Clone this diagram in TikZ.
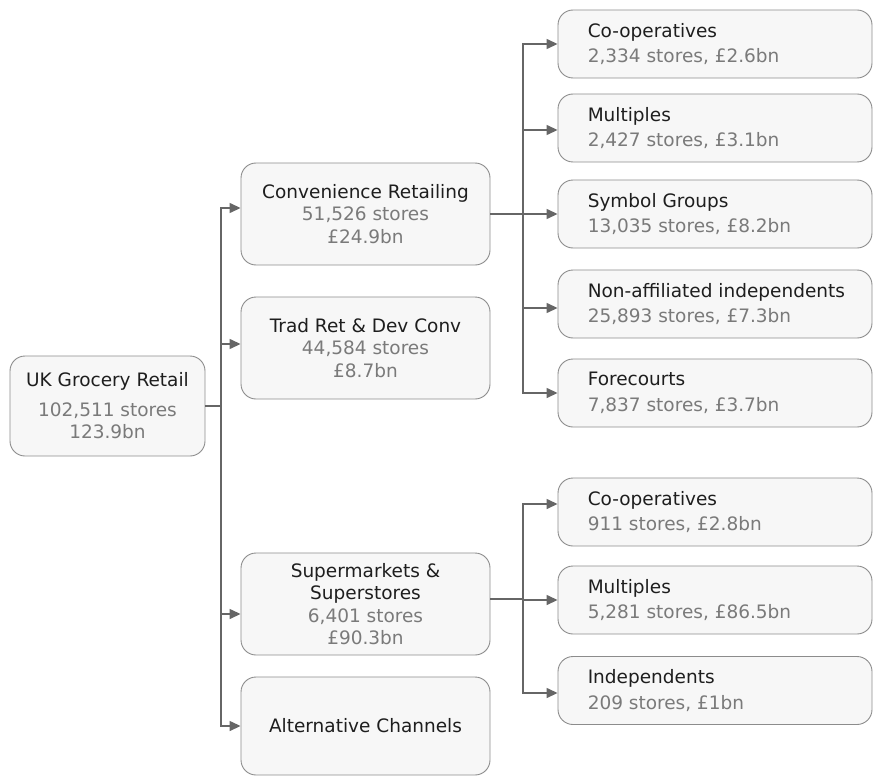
\documentclass[tikz,border=0pt]{standalone}
\usepackage{fontspec}
\setmainfont{DejaVu Sans}
\usetikzlibrary{arrows.meta,calc}
\definecolor{boxfill}{HTML}{F7F7F7}
\definecolor{boxline}{HTML}{8C8C8C}
\definecolor{wire}{HTML}{666666}
\definecolor{headtxt}{HTML}{1E1E1E}
\definecolor{subtxt}{HTML}{7A7A7A}
\tikzset{
  box/.style={draw=boxline, fill=boxfill, line width=0.9pt, rounded corners=15pt,
    align=center, inner sep=0pt, text=headtxt,
    font=\fontsize{18.5}{22.5}\selectfont},
  midbox/.style={box, minimum width=249pt, minimum height=102pt},
  leafbox/.style={box, minimum width=314pt, minimum height=68pt},
  leaftext/.style={anchor=west, align=left, inner sep=0pt, text=headtxt,
    font=\fontsize{18.5}{22.5}\selectfont},
  wireline/.style={draw=wire, line width=1.4pt},
  arr/.style={wireline, -{Triangle[length=11pt,width=10pt]}},
}
\newcommand{\sub}[1]{\textcolor{subtxt}{#1}}
\begin{document}
\begin{tikzpicture}[x=1pt,y=-1pt]
\useasboundingbox (0,0) rectangle (874,778);

% root
\node[box, minimum width=195pt, minimum height=100pt] (root) at (107.5,406)
  {UK Grocery Retail\\[7pt]\sub{102,511 stores}\\\sub{123.9bn}};

% second level
\node[midbox] (conv) at (365.5,214)
  {Convenience Retailing\\\sub{51,526 stores}\\\sub{£24.9bn}};
\node[midbox] (trad) at (365.5,348)
  {Trad Ret \& Dev Conv\\\sub{44,584 stores}\\\sub{£8.7bn}};
\node[midbox] (super) at (365.5,604)
  {Supermarkets \&\\Superstores\\\sub{6,401 stores}\\\sub{£90.3bn}};
\node[midbox, minimum height=98pt] (alt) at (365.5,726) {Alternative Channels};

% convenience leaves
\node[leafbox] (coopA) at (715,44) {};
\node[leafbox] (multA) at (715,128) {};
\node[leafbox] (symA) at (715,214) {};
\node[leafbox] (nonA) at (715,304) {};
\node[leafbox] (foreA) at (715,393) {};
% supermarket leaves
\node[leafbox] (coopB) at (715,512) {};
\node[leafbox] (multB) at (715,600) {};
\node[leafbox] (indB) at (715,690.5) {};

\node[leaftext] (tcoopA) at ([xshift=30pt]coopA.west) {Co-operatives\\[3pt]\sub{2,334 stores, £2.6bn}};
\node[leaftext] (tmultA) at ([xshift=30pt]multA.west) {Multiples\\[3pt]\sub{2,427 stores, £3.1bn}};
\node[leaftext] (tsymA) at ([xshift=30pt]symA.west) {Symbol Groups\\[3pt]\sub{13,035 stores, £8.2bn}};
\node[leaftext] (tnonA) at ([xshift=30pt]nonA.west) {Non-affiliated independents\\[3pt]\sub{25,893 stores, £7.3bn}};
\node[leaftext] (tforeA) at ([xshift=30pt]foreA.west) {Forecourts\\[3pt]\sub{7,837 stores, £3.7bn}};
\node[leaftext] (tcoopB) at ([xshift=30pt]coopB.west) {Co-operatives\\[3pt]\sub{911 stores, £2.8bn}};
\node[leaftext] (tmultB) at ([xshift=30pt]multB.west) {Multiples\\[3pt]\sub{5,281 stores, £86.5bn}};
\node[leaftext] (tindB) at ([xshift=30pt]indB.west) {Independents\\[3pt]\sub{209 stores, £1bn}};

% junction points
\coordinate (j1) at (221,406);
\coordinate (j2) at (523,214);
\coordinate (j3) at (523,599);

% trunk from the root
\draw[wireline] (root.east) -- (j1);
\draw[arr] (j1) |- ([yshift=6pt]conv.west);
\draw[arr] (j1) |- ([yshift=4pt]trad.west);
\draw[arr] (j1) |- ([yshift=-10pt]super.west);
\draw[arr] (j1) |- (alt.west);

% convenience branch
\draw[wireline] (conv.east) -- (j2);
\draw[arr] (j2) |- (coopA.west);
\draw[arr] (j2) |- ([yshift=-2pt]multA.west);
\draw[arr] (j2) |- (symA.west);
\draw[arr] (j2) |- ([yshift=-4pt]nonA.west);
\draw[arr] (j2) |- (foreA.west);

% supermarket branch
\draw[wireline] ([yshift=5pt]super.east) -- (j3);
\draw[arr] (j3) |- ([yshift=8pt]coopB.west);
\draw[arr] (j3) |- (multB.west);
\draw[arr] (j3) |- ([yshift=-2.5pt]indB.west);
\end{tikzpicture}
\end{document}
